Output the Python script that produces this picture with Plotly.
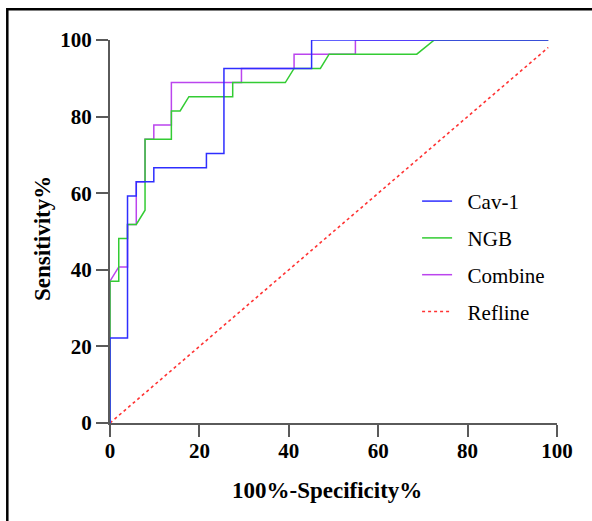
import plotly.graph_objects as go

# ---- data ----
cav1_x = [0, 0, 3.92, 3.92, 5.88, 5.88, 9.80, 9.80, 21.57, 21.57, 25.49, 25.49, 45.10, 45.10, 98.04]
cav1_y = [0, 22.22, 22.22, 59.26, 59.26, 62.96, 62.96, 66.67, 66.67, 70.37, 70.37, 92.59, 92.59, 100, 100]

ngb_x = [0, 0, 1.96, 1.96, 3.92, 3.92, 5.88, 7.84, 7.84, 13.73, 13.73, 15.69, 17.65, 27.45, 27.45,
         39.22, 41.18, 47.06, 49.02, 68.63, 72.55, 98.04]
ngb_y = [0, 37.04, 37.04, 48.15, 48.15, 51.85, 51.85, 55.56, 74.07, 74.07, 81.48, 81.48, 85.19, 85.19, 88.89,
         88.89, 92.59, 92.59, 96.30, 96.30, 100, 100]

comb_x = [0, 0, 1.96, 3.92, 3.92, 5.88, 5.88, 7.84, 7.84, 9.80, 9.80, 13.73, 13.73, 29.41, 29.41,
          41.18, 41.18, 54.90, 54.90, 98.04]
comb_y = [0, 37.04, 40.74, 40.74, 51.85, 51.85, 62.96, 62.96, 74.07, 74.07, 77.78, 77.78, 88.89, 88.89, 92.59,
          92.59, 96.30, 96.30, 100, 100]

ref_x = [0, 98.04]
ref_y = [0, 98.04]

ticks = [0, 20, 40, 60, 80, 100]

x_title = "100%-Specificity%"
y_title = "Sensitivity%"

colors = {"Cav-1": "#2E2EFF", "NGB": "#33CC33", "Combine": "#BB44EE", "Refline": "#FF3333"}

SERIF = "Liberation Serif, Times New Roman, serif"
PAD = "\u00a0\u00a0"  # extra gap between legend line and its label

# plot-area geometry in px (figure 592x521)
L, R, T, B = 110, 35, 40, 98
PW, PH = 592 - L - R, 521 - T - B

fig = go.Figure()
# draw order: Refline, Combine, NGB, Cav-1 (Cav-1 on top); legend order via legendrank
fig.add_trace(go.Scatter(x=ref_x, y=ref_y, mode="lines", name=PAD + "Refline", legendrank=4,
                         legendgroup="d", line=dict(color=colors["Refline"], width=1.6, dash="dot"),
                         cliponaxis=False))
fig.add_trace(go.Scatter(x=comb_x, y=comb_y, mode="lines", name=PAD + "Combine", legendrank=3,
                         legendgroup="c", line=dict(color=colors["Combine"], width=1.5), cliponaxis=False))
fig.add_trace(go.Scatter(x=ngb_x, y=ngb_y, mode="lines", name=PAD + "NGB", legendrank=2,
                         legendgroup="b", line=dict(color=colors["NGB"], width=1.5), cliponaxis=False))
fig.add_trace(go.Scatter(x=cav1_x, y=cav1_y, mode="lines", name=PAD + "Cav-1", legendrank=1,
                         legendgroup="a", line=dict(color=colors["Cav-1"], width=1.5), cliponaxis=False))

axis_common = dict(
    range=[0, 100], tickvals=ticks, ticktext=[str(t) for t in ticks],
    showline=True, linecolor="#5a5a5a", linewidth=2,
    ticks="outside", ticklen=12, tickwidth=2, tickcolor="#5a5a5a",
    showgrid=False, zeroline=False,
    tickfont=dict(family=SERIF, size=21, color="black", weight="bold"),
)

fig.update_layout(
    width=592, height=521,
    margin=dict(l=L, r=R, t=T, b=B),
    paper_bgcolor="white", plot_bgcolor="white",
    xaxis=dict(axis_common, ticklabelstandoff=-4),
    yaxis=dict(axis_common),
    legend=dict(x=0.687, y=0.632, xanchor="left", yanchor="top", bgcolor="rgba(0,0,0,0)",
                font=dict(family=SERIF, size=21, color="black"), tracegroupgap=6.5, itemwidth=30),
    showlegend=True,
)

title_font = dict(family=SERIF, size=23, color="black", weight="bold")
fig.add_annotation(text=x_title, xref="paper", yref="paper",
                   x=(327 - L) / PW, y=(T + PH - 490) / PH, showarrow=False,
                   xanchor="center", yanchor="middle", font=title_font)
fig.add_annotation(text=y_title, xref="paper", yref="paper", textangle=-90,
                   x=(42 - L) / PW, y=(T + PH - 239) / PH, showarrow=False,
                   xanchor="center", yanchor="middle", font=title_font)

# outer frame of the figure panel
fig.add_shape(type="rect", xref="paper", yref="paper",
              x0=(7.3 - L) / PW, x1=1.2, y0=-0.4, y1=(T + PH - 9.3) / PH,
              line=dict(color="black", width=2.5), layer="below")

fig.write_html("out.html", config={"displayModeBar": False},
               post_script="document.body.style.margin='0px';")
